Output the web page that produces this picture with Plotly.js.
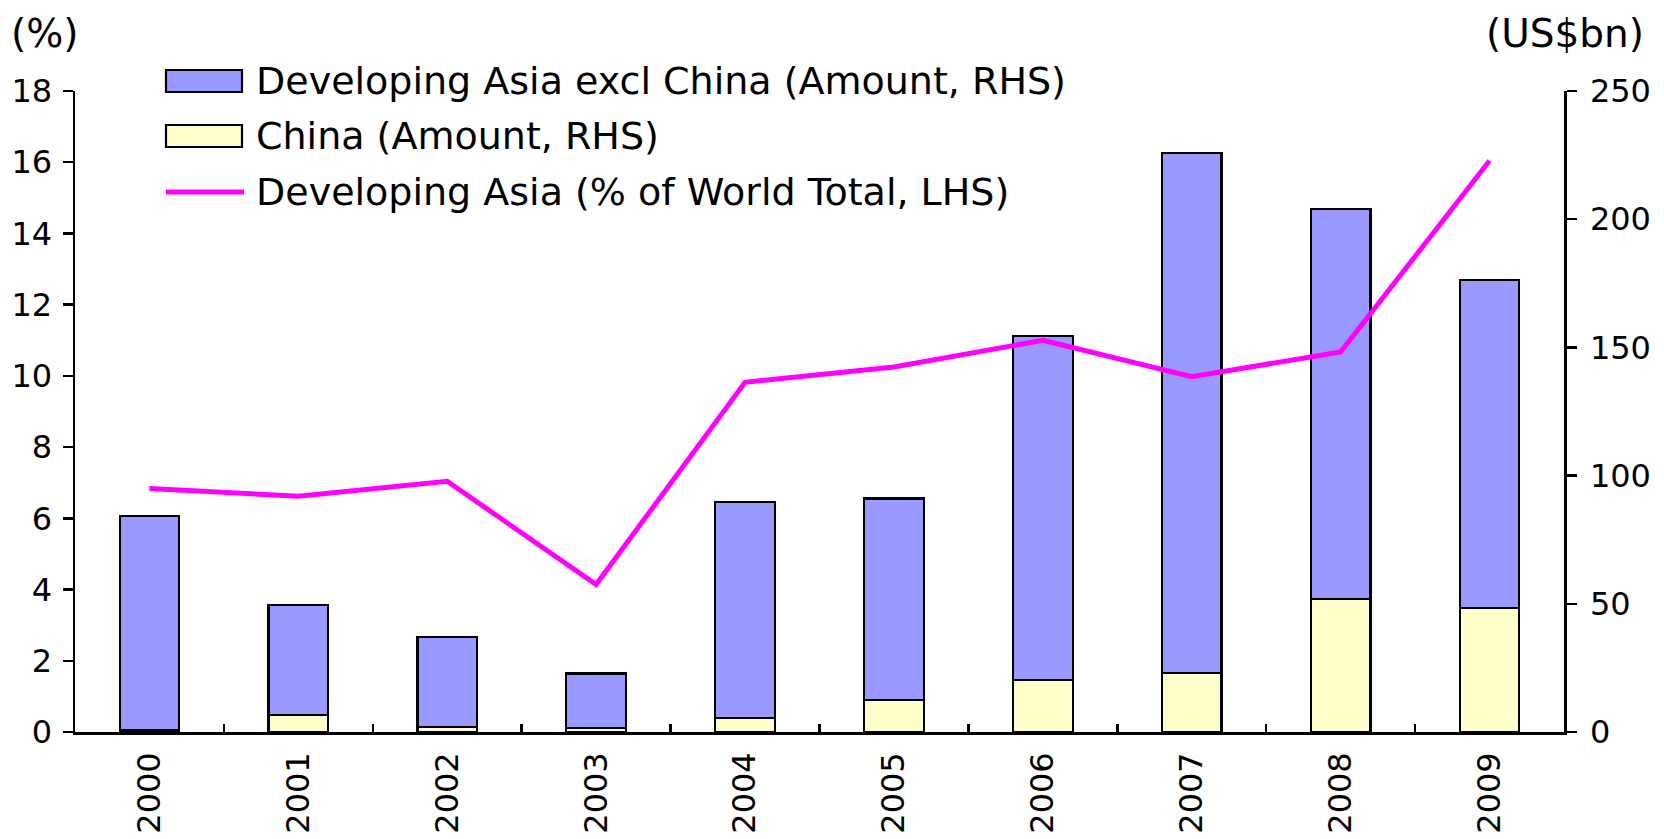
<!DOCTYPE html>
<html>
<head>
<meta charset="utf-8">
<script src="https://cdn.plot.ly/plotly-3.0.1.min.js"></script>
<style>
  html, body { margin: 0; padding: 0; background: #ffffff; }
  #chart { width: 1664px; height: 839px; }
</style>
</head>
<body>
<div id="chart"></div>
<script>
// ---- Data ----
const years = ['2000', '2001', '2002', '2003', '2004', '2005', '2006', '2007', '2008', '2009'];
// China (Amount, US$bn, RHS)
const chinaAmount = [0.8, 6.6, 2.0, 1.6, 5.5, 12.4, 20.4, 22.9, 51.9, 48.4];
// Developing Asia excl China (Amount, US$bn, RHS) - stacked on top of China
const asiaExclChinaAmount = [83.3, 42.8, 34.9, 21.2, 84.3, 78.7, 134.2, 202.9, 152.1, 128.0];
// Developing Asia (% of World Total, LHS)
const asiaShareOfWorld = [6.84, 6.62, 7.04, 4.14, 9.82, 10.25, 11.0, 9.98, 10.67, 16.04];

const leftTicks = [0, 2, 4, 6, 8, 10, 12, 14, 16, 18];
const rightTicks = [0, 50, 100, 150, 200, 250];

const legendLabels = [
  'Developing Asia excl China (Amount, RHS)',
  'China (Amount, RHS)',
  'Developing Asia (% of World Total, LHS)'
];

// ---- Styling ----
const FONT = 'DejaVu Sans, Verdana, sans-serif';
const BLUE = '#9999FF';
const YELLOW = '#FFFFCC';
const MAGENTA = '#FF00FF';
const W = 1664, H = 839;
const M = { l: 75, r: 100, t: 91, b: 107 };
const PW = W - M.l - M.r, PH = H - M.t - M.b;
const px = x => (x - M.l) / PW;          // pixel -> paper x
const py = y => (H - M.b - y) / PH;      // pixel -> paper y

const traces = [
  {
    type: 'bar', name: legendLabels[1], x: years, y: chinaAmount, yaxis: 'y',
    marker: { color: YELLOW, line: { color: '#000', width: 2.2 } }, showlegend: false
  },
  {
    type: 'bar', name: legendLabels[0], x: years, y: asiaExclChinaAmount, yaxis: 'y',
    marker: { color: BLUE, line: { color: '#000', width: 2.2 } }, showlegend: false
  },
  {
    type: 'scatter', mode: 'lines', name: legendLabels[2], x: years, y: asiaShareOfWorld, yaxis: 'y2',
    line: { color: MAGENTA, width: 5 }, showlegend: false
  }
];

const tickFont = { family: FONT, size: 32, color: '#000' };
const legendFont = { family: FONT, size: 38, color: '#000' };
const unitFont = { family: FONT, size: 39, color: '#000' };
const baseY = {
  showgrid: false, zeroline: false, showline: true, linecolor: '#000', linewidth: 2.5,
  tickcolor: '#000', tickwidth: 2.5, fixedrange: true
};

const layout = {
  width: W, height: H,
  margin: M,
  paper_bgcolor: '#fff', plot_bgcolor: '#fff',
  barmode: 'stack', bargap: 0.6,
  showlegend: false,
  font: { family: FONT, color: '#000' },
  xaxis: {
    type: 'category', showgrid: false, zeroline: false,
    showline: true, linecolor: '#000', linewidth: 2.5,
    ticks: 'inside', tickson: 'boundaries', ticklen: 8, tickwidth: 2.5, tickcolor: '#000',
    tickangle: -90, tickfont: tickFont, ticklabelstandoff: 5, fixedrange: true
  },
  yaxis: Object.assign({}, baseY, {
    side: 'right', range: [0, 250], tickvals: rightTicks, ticktext: rightTicks.map(String),
    ticks: 'outside', ticklen: 10, tickfont: tickFont, ticklabelstandoff: 7
  }),
  yaxis2: Object.assign({}, baseY, {
    side: 'left', overlaying: 'y', range: [0, 18], tickvals: leftTicks, ticktext: leftTicks.map(String),
    ticks: 'outside', ticklen: 10, tickfont: tickFont, ticklabelstandoff: 4
  }),
  yaxis3: Object.assign({}, baseY, {
    side: 'left', overlaying: 'y', anchor: 'x', range: [0, 18], tickvals: leftTicks,
    ticks: 'inside', ticklen: 8, showticklabels: false, showline: false
  }),
  yaxis4: Object.assign({}, baseY, {
    side: 'right', overlaying: 'y', anchor: 'x', range: [0, 250], tickvals: rightTicks,
    ticks: 'inside', ticklen: 8, showticklabels: false, showline: false
  }),
  shapes: [
    { type: 'rect', xref: 'paper', yref: 'paper', x0: px(166), x1: px(242), y0: py(92), y1: py(70),
      fillcolor: BLUE, line: { color: '#000', width: 2.2 } },
    { type: 'rect', xref: 'paper', yref: 'paper', x0: px(166), x1: px(242), y0: py(147), y1: py(125),
      fillcolor: YELLOW, line: { color: '#000', width: 2.2 } },
    { type: 'line', xref: 'paper', yref: 'paper', x0: px(166), x1: px(244), y0: py(192), y1: py(192),
      line: { color: MAGENTA, width: 5 } }
  ],
  annotations: [
    { xref: 'paper', yref: 'paper', x: px(254), y: py(81), xanchor: 'left', yanchor: 'middle',
      text: legendLabels[0], showarrow: false, font: legendFont },
    { xref: 'paper', yref: 'paper', x: px(254), y: py(136), xanchor: 'left', yanchor: 'middle',
      text: legendLabels[1], showarrow: false, font: legendFont },
    { xref: 'paper', yref: 'paper', x: px(254), y: py(192), xanchor: 'left', yanchor: 'middle',
      text: legendLabels[2], showarrow: false, font: legendFont },
    { xref: 'paper', yref: 'paper', x: px(9), y: py(34), xanchor: 'left', yanchor: 'middle',
      text: '(%)', showarrow: false, font: unitFont },
    { xref: 'paper', yref: 'paper', x: px(1646), y: py(34), xanchor: 'right', yanchor: 'middle',
      text: '(US$bn)', showarrow: false, font: unitFont }
  ]
};

Plotly.newPlot('chart', traces, layout, { displayModeBar: false, staticPlot: true });
</script>
</body>
</html>
